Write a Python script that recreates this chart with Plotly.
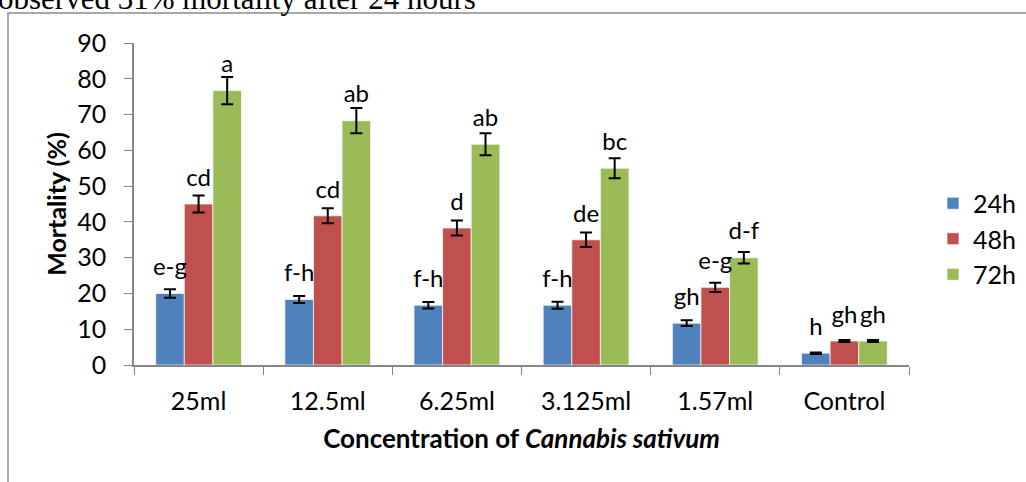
import plotly.graph_objects as go

# data
concentrations = ['25ml', '12.5ml', '6.25ml', '3.125ml', '1.57ml', 'Control']
series_names = ['24h', '48h', '72h']

mort_24h = [20.0, 18.3, 16.7, 16.7, 11.7, 3.3]
mort_48h = [45.0, 41.7, 38.3, 35.0, 21.7, 6.7]
mort_72h = [76.7, 68.3, 61.7, 55.0, 30.0, 6.7]

err_24h = [1.2, 1.0, 0.9, 1.0, 0.8, 0.2]
err_48h = [2.4, 2.1, 2.1, 2.0, 1.3, 0.3]
err_72h = [3.8, 3.5, 3.1, 2.8, 1.6, 0.3]

letters_24h = ['e-g', 'f-h', 'f-h', 'f-h', 'gh', 'h']
letters_48h = ['cd', 'cd', 'd', 'de', 'e-g', 'gh']
letters_72h = ['a', 'ab', 'ab', 'bc', 'd-f', 'gh']

y_ticks = [0, 10, 20, 30, 40, 50, 60, 70, 80, 90]

COLORS = ['#4F81BD', '#C0504D', '#9BBB59']
FONT = 'Lato'
AXIS_CLR = '#868686'

W, H = 1026, 482
L, R, T, B = 134, 117, 43, 117
PW, PH = W - L - R, H - T - B


def px_x(px):
    return (px - L) / PW


def px_y(py):
    return (H - B - py) / PH


fig = go.Figure()

_vals = [mort_24h, mort_48h, mort_72h]
_errs = [err_24h, err_48h, err_72h]
_lets = [letters_24h, letters_48h, letters_72h]

for name, vals, errs, clr in zip(series_names, _vals, _errs, COLORS):
    fig.add_trace(go.Bar(
        x=concentrations, y=vals, name=name,
        marker=dict(color=clr, line=dict(color='rgba(255,255,255,0.7)', width=1)),
        error_y=dict(type='data', array=errs, visible=True,
                     color='black', thickness=2, width=6),
    ))

# significance letters, Excel style: fixed offset above the bar top
# (transparent marker just pushes the text up)
for vals, lets in zip(_vals, _lets):
    fig.add_trace(go.Scatter(
        x=concentrations, y=vals,
        mode='markers+text', text=lets, textposition='top center',
        marker=dict(size=18, color='rgba(0,0,0,0)'),
        textfont=dict(family=FONT, size=24, color='black'),
        showlegend=False, hoverinfo='skip', cliponaxis=False,
    ))

# surrounding text frame and cut-off sentence from the page
fig.add_shape(type='rect', xref='paper', yref='paper',
              x0=px_x(8), x1=px_x(1040), y0=px_y(500), y1=px_y(13),
              line=dict(color='#8C8C8C', width=1.5), layer='below')
fig.add_annotation(
    xref='paper', yref='paper', x=px_x(-4), y=px_y(18),
    xanchor='left', yanchor='bottom', showarrow=False,
    text='observed 31% mortality after 24 hours',
    font=dict(family='Liberation Serif', size=31, color='black'),
)

fig.update_layout(
    width=W, height=H,
    margin=dict(l=L, r=R, t=T, b=B, autoexpand=False),
    paper_bgcolor='white', plot_bgcolor='white',
    font=dict(family=FONT, size=25, color='black'),
    barmode='group', bargap=0.336, bargroupgap=0,
    scattermode='group', scattergap=0.336,
    showlegend=True,
    legend=dict(
        x=px_x(933), xanchor='left', y=px_y(239), yanchor='middle',
        font=dict(family=FONT, size=25, color='black'),
        tracegroupgap=0, itemwidth=30,
        bgcolor='rgba(0,0,0,0)',
    ),
    xaxis=dict(
        type='category', showline=True, linecolor=AXIS_CLR, linewidth=1.5,
        ticks='outside', tickson='boundaries', ticklen=8, tickcolor=AXIS_CLR,
        tickfont=dict(family=FONT, size=25, color='black'),
        ticklabelstandoff=13,
        showgrid=False,
        title=dict(text='<b>Concentration of <i>Cannabis sativum</i></b>',
                   font=dict(family=FONT, size=26, color='black'), standoff=16),
    ),
    yaxis=dict(
        range=[0, 90], tickvals=y_ticks,
        showline=True, linecolor=AXIS_CLR, linewidth=1.5,
        ticks='outside', ticklen=8, tickcolor=AXIS_CLR,
        tickfont=dict(family=FONT, size=25, color='black'),
        ticklabelstandoff=13,
        showgrid=False, zeroline=False,
        title=dict(text='<b>Mortality (%)</b>',
                   font=dict(family=FONT, size=25, color='black'), standoff=3),
    ),
)

fig.write_html('out.html', config={'displayModeBar': False},
               post_script="document.body.style.margin = '0';")
